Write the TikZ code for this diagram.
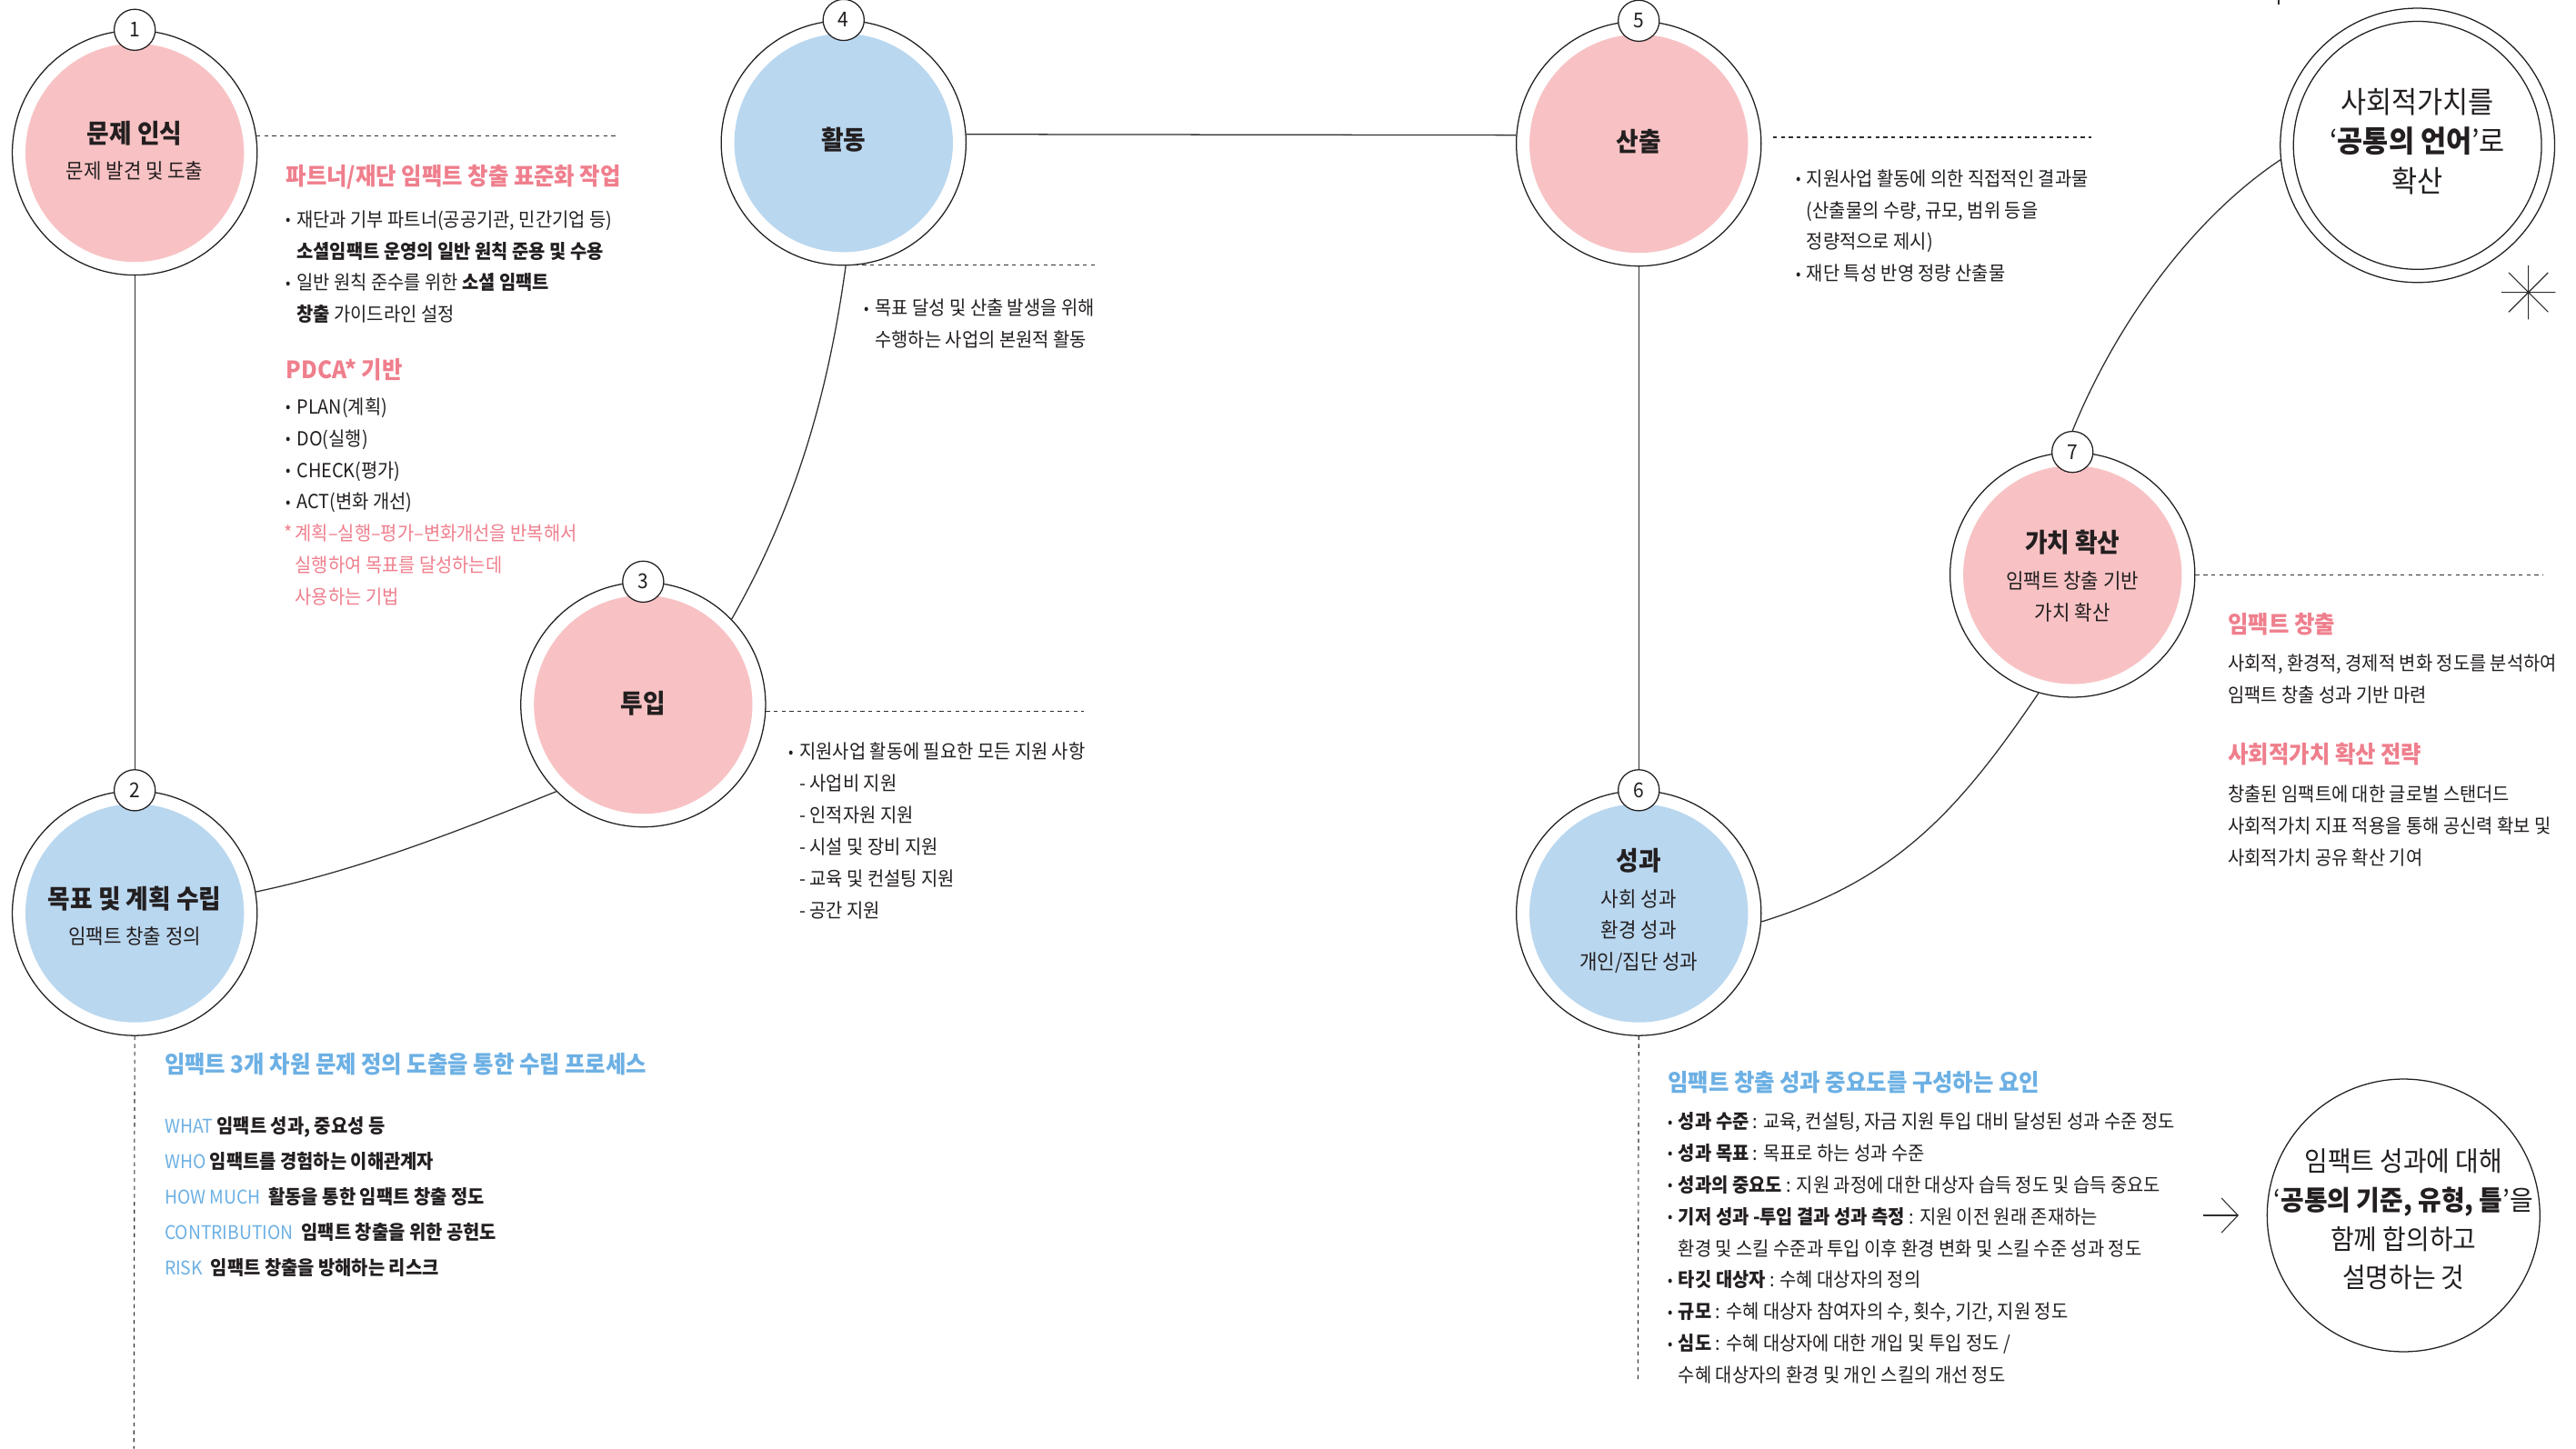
\documentclass[tikz,border=0pt]{standalone}
\usepackage{fontspec}
\setmainfont{Noto Sans CJK KR}[FakeStretch=0.93]
\usetikzlibrary{backgrounds,arrows.meta}
\definecolor{pinkfill}{HTML}{F8C2C4}
\definecolor{bluefill}{HTML}{B9D7EF}
\definecolor{pinktext}{HTML}{EF7F8D}
\definecolor{bluetext}{HTML}{6CB0E4}
\definecolor{ink}{HTML}{231F20}
\definecolor{linegray}{HTML}{2E2E2E}
\newcommand\bu{\makebox[6.5pt][l]{\raisebox{0.8pt}{\fontsize{9.5}{9.5}\selectfont •}}}
\newcommand\ind{\hspace*{6.5pt}}
\tikzset{
 ring/.style={circle, draw=ink, line width=0.7pt, fill=white, minimum size=149pt, inner sep=0pt},
 pinkcore/.style={circle, fill=pinkfill, minimum size=133pt, inner sep=0pt},
 bluecore/.style={circle, fill=bluefill, minimum size=133pt, inner sep=0pt},
 badge/.style={circle, draw=ink, line width=0.7pt, fill=white, minimum size=25pt, inner sep=0pt, text=ink, font=\fontsize{12.5}{12.5}\selectfont},
 ctitle/.style={font=\bfseries\fontsize{15.9}{18}\selectfont, text=ink, inner sep=0pt},
 csub/.style={font=\fontsize{12.6}{19.2}\selectfont, text=ink, align=center, inner sep=0pt},
 link/.style={draw=linegray, line width=0.7pt},
 guide/.style={draw=linegray, line width=0.6pt, dash pattern=on 2.4pt off 2.4pt},
 bodytext/.style={font=\fontsize{11.8}{19.3}\selectfont, text=ink, align=left, anchor=north west, inner sep=0pt},
 secthead/.style={font=\bfseries\fontsize{14.5}{16}\selectfont, anchor=west, inner sep=0pt},
 bigtext/.style={font=\fontsize{18.2}{24}\selectfont, text=ink, align=center, inner sep=0pt},
}
\newcommand\lb[1]{{\color{bluetext}\fontsize{11.5}{11.5}\selectfont #1}}
\begin{document}
\begin{tikzpicture}[x=1pt, y=-1pt]
\useasboundingbox (0,0) rectangle (1568,882);

% ---------- main circles ----------
\node[ring] (c1) at (82,93) {};
\node[pinkcore] (f1) at (c1) {};
\node[ring] (c2) at (82,556) {};
\node[bluecore] (f2) at (c2) {};
\node[ring] (c3) at (391.5,429) {};
\node[pinkcore] (f3) at (c3) {};
\node[ring] (c4) at (513.5,87) {};
\node[bluecore] (f4) at (c4) {};
\node[ring] (c5) at (997.5,87.5) {};
\node[pinkcore] (f5) at (c5) {};
\node[ring] (c6) at (997.5,556) {};
\node[bluecore] (f6) at (c6) {};
\node[ring] (c7) at (1261.5,350) {};
\node[pinkcore] (f7) at (c7) {};

\node[badge] (b1) at (c1.north) {1};
\node[badge] (b2) at (c2.north) {2};
\node[badge] (b3) at (c3.north) {3};
\node[badge] (b4) at (c4.north) {4};
\node[badge] (b5) at (c5.north) {5};
\node[badge] (b6) at (c6.north) {6};
\node[badge] (b7) at (c7.north) {7};

% circle texts
\node[ctitle] (t1) at (82,81) {문제 인식};
\node[csub] (s1) at (82,104) {문제 발견 및 도출};
\node[ctitle] (t2) at (82,547) {목표 및 계획 수립};
\node[csub] (s2) at (82,570) {임팩트 창출 정의};
\node[ctitle] (t3) at (391.5,428) {투입};
\node[ctitle] (t4) at (513.5,85) {활동};
\node[ctitle] (t5) at (997.5,86) {산출};
\node[ctitle] (t6) at (997.5,524) {성과};
\node[csub] (s6) at (997.5,567) {사회 성과\\환경 성과\\개인/집단 성과};
\node[ctitle] (t7) at (1261.5,330) {가치 확산};
\node[csub] (s7) at (1261.5,363.5) {임팩트 창출 기반\\가치 확산};

% ---------- outline circles ----------
\node[circle, draw=ink, line width=0.7pt, fill=white, minimum size=167pt, inner sep=0pt] (g1) at (1471.5,88.5) {};
\node[circle, draw=ink, line width=0.7pt, minimum size=151pt, inner sep=0pt] (g1in) at (g1) {};
\node[bigtext] (g1t) at (1471.5,86) {사회적가치를\\‘\textbf{공통의 언어}’로\\확산};
\node[circle, draw=ink, line width=0.7pt, fill=white, minimum size=166pt, inner sep=0pt] (g2) at (1463,740) {};
\node[bigtext, font=\fontsize{16.6}{23.7}\selectfont] (g2t) at (1463,742.5) {임팩트 성과에 대해\\‘\textbf{공통의 기준, 유형, 틀}’을\\함께 합의하고\\설명하는 것};

% ---------- connectors ----------
\begin{scope}[on background layer]
\draw[link] (c1) -- (c2);
\draw[link] (c2.10) .. controls (218,530) and (279,506) .. (c3.225);
\draw[link] (c3.44) .. controls (487,304) and (505,233) .. (c4.271);
\draw[link] (c4.4) -- (c5.176);
\draw[link] (c5) -- (c6);
\draw[link] (c6.-4) .. controls (1154,536) and (1192,494) .. (c7.254);
\draw[link] (b7.north) .. controls (1285,204) and (1330,136) .. (g1.186);
\end{scope}

% ---------- dashed guides ----------
\coordinate (d1) at (376,83);
\coordinate (d3) at (660,432);
\coordinate (d4) at (667,161);
\coordinate (d5) at (1273,84);
\coordinate (d7) at (1548,350);
\coordinate (d2) at (81.5,882);
\coordinate (d6) at (997,840);
\draw[guide] (c1.8) -- (c1.8 -| d1);
\draw[guide] (c3.357) -- (c3.357 -| d3);
\draw[guide] (c4.275) -- (c4.275 -| d4);
\draw[guide, shorten <=7pt] (c5.3) -- (c5.3 -| d5);
\draw[guide] (c7.0) -- (c7.0 -| d7);
\draw[guide] (c2.south) -- (d2);
\draw[guide] (c6.south) -- (d6);

% ---------- text blocks ----------
% block 1
\node[secthead, text=pinktext] (h1) at (174,108) {파트너/재단 임팩트 창출 표준화 작업};
\node[bodytext] (p1) at (174,128) {\bu 재단과 기부 파트너(공공기관, 민간기업 등)\\
\ind\textbf{소셜임팩트 운영의 일반 원칙 준용 및 수용}\\
\bu 일반 원칙 준수를 위한 \textbf{소셜 임팩트}\\
\ind\textbf{창출} 가이드라인 설정};
\node[secthead, text=pinktext] (h1b) at (174,225) {PDCA* 기반};
\node[bodytext] (p1b) at (174,242) {\bu PLAN(계획)\\ \bu DO(실행)\\ \bu CHECK(평가)\\ \bu ACT(변화 개선)};
\node[bodytext, text=pinktext] (p1c) at (173,319) {\makebox[6.5pt][l]{*}계획–실행–평가–변화개선을 반복해서\\
\ind 실행하여 목표를 달성하는데\\
\ind 사용하는 기법};

% block 4
\node[bodytext] (p4) at (526,182) {\bu 목표 달성 및 산출 발생을 위해\\ \ind 수행하는 사업의 본원적 활동};

% block 3
\node[bodytext] (p3) at (480,452) {\bu 지원사업 활동에 필요한 모든 지원 사항\\
\ind - 사업비 지원\\
\ind - 인적자원 지원\\
\ind - 시설 및 장비 지원\\
\ind - 교육 및 컨설팅 지원\\
\ind - 공간 지원};

% block 5
\node[bodytext] (p5) at (1093,103) {\bu 지원사업 활동에 의한 직접적인 결과물\\
\ind(산출물의 수량, 규모, 범위 등을\\
\ind 정량적으로 제시)\\
\bu 재단 특성 반영 정량 산출물};

% block 7
\node[secthead, text=pinktext] (h7) at (1356,380) {임팩트 창출};
\node[bodytext] (p7) at (1356,398) {사회적, 환경적, 경제적 변화 정도를 분석하여\\임팩트 창출 성과 기반 마련};
\node[secthead, text=pinktext] (h7b) at (1356,459) {사회적가치 확산 전략};
\node[bodytext] (p7b) at (1356,478) {창출된 임팩트에 대한 글로벌 스탠더드\\사회적가치 지표 적용을 통해 공신력 확보 및\\사회적가치 공유 확산 기여};

% block 2
\node[secthead, text=bluetext] (h2) at (100,648) {임팩트 3개 차원 문제 정의 도출을 통한 수립 프로세스};
\node[bodytext, font=\fontsize{11.8}{21.5}\selectfont] (p2) at (100,680) {\lb{WHAT} \textbf{임팩트 성과, 중요성 등}\\
\lb{WHO} \textbf{임팩트를 경험하는 이해관계자}\\
\lb{HOW MUCH}\ \ \textbf{활동을 통한 임팩트 창출 정도}\\
\lb{CONTRIBUTION}\ \ \textbf{임팩트 창출을 위한 공헌도}\\
\lb{RISK}\ \ \textbf{임팩트 창출을 방해하는 리스크}};

% block 6
\node[secthead, text=bluetext] (h6) at (1015,659) {임팩트 창출 성과 중요도를 구성하는 요인};
\node[bodytext] (p6) at (1015,677) {\bu \textbf{성과 수준} : 교육, 컨설팅, 자금 지원 투입 대비 달성된 성과 수준 정도\\
\bu \textbf{성과 목표} : 목표로 하는 성과 수준\\
\bu \textbf{성과의 중요도} : 지원 과정에 대한 대상자 습득 정도 및 습득 중요도\\
\bu \textbf{기저 성과 -투입 결과 성과 측정} : 지원 이전 원래 존재하는\\
\ind 환경 및 스킬 수준과 투입 이후 환경 변화 및 스킬 수준 성과 정도\\
\bu \textbf{타깃 대상자} : 수혜 대상자의 정의\\
\bu \textbf{규모} : 수혜 대상자 참여자의 수, 횟수, 기간, 지원 정도\\
\bu \textbf{심도} : 수혜 대상자에 대한 개입 및 투입 정도 /\\
\ind 수혜 대상자의 환경 및 개인 스킬의 개선 정도};

% ---------- arrow and marks ----------
\coordinate (a0) at (1341,740);
\draw[link, line width=0.6pt, shorten >=17pt, -{Straight Barb[length=10pt,width=21pt]}] (a0) -- (g2.west);
\coordinate (star) at (1539,178);
\draw[draw=linegray, line width=0.6pt] ([xshift=-16.5pt]star) -- ([xshift=16.5pt]star)
  ([yshift=-16.5pt]star) -- ([yshift=16.5pt]star)
  ([shift={(-12pt,-12pt)}]star) -- ([shift={(12pt,12pt)}]star)
  ([shift={(-12pt,12pt)}]star) -- ([shift={(12pt,-12pt)}]star);
\coordinate (tick0) at (1387,0);
\coordinate (tick1) at (1387,3);
\draw[draw=linegray, line width=0.6pt] (tick0) -- (tick1);
\end{tikzpicture}
\end{document}
